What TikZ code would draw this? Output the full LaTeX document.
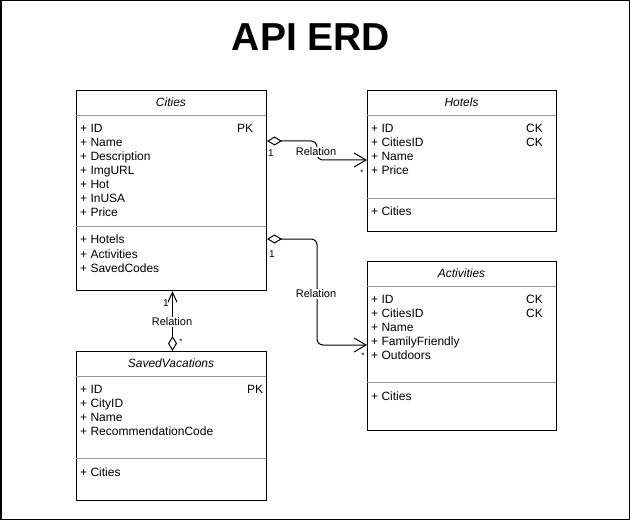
\documentclass[tikz,border=0pt]{standalone}
\usepackage{fontspec}
\setmainfont{Liberation Sans}
\usetikzlibrary{arrows.meta}

\begin{document}
\begin{tikzpicture}[x=1bp,y=-1bp,
    box/.style={draw,line width=1bp,anchor=north west,minimum width=190bp,inner sep=0pt},
    sep/.style={black!40,line width=.8bp},
    hd/.style={font=\fontsize{12bp}{14bp}\selectfont\itshape,inner sep=0pt},
    attr/.style={anchor=base west,font=\fontsize{12bp}{14bp}\selectfont,inner sep=0pt},
    lbl/.style={font=\fontsize{11bp}{13bp}\selectfont,fill=white,inner sep=1bp},
    mult/.style={font=\fontsize{10bp}{12bp}\selectfont,inner sep=0pt},
    many/.style={font=\fontsize{8bp}{10bp}\selectfont,inner sep=0pt},
    rel/.style={line width=1bp,rounded corners=6bp,
      {Diamond[open,length=15bp,width=9bp]}-{Straight Barb[length=12bp,width=14bp]}},
    relv/.style={line width=1bp,
      {Diamond[open,length=15bp,width=9bp]}-{Straight Barb[length=10bp,width=9bp]}}]
    \useasboundingbox (0,0) rectangle (631,521);
    \draw[line width=1.5bp] (.75,.75) rectangle (629.5,519.5);
    \node[font=\fontsize{39bp}{44bp}\selectfont\bfseries] (title) at (311,37) {API ERD};
    %%
    \begin{scope}[shift={(76,90)}]
      \node[box,minimum height=200bp] (cities) at (0,0) {};
      \node[hd] (citiesH) at (95,12.5) {Cities};
      \draw[sep] (0,25) -- (190,25);
      \draw[sep] (0,136) -- (190,136);
      \foreach \t [count=\i from 0] in {ID,Name,Description,ImgURL,Hot,InUSA,Price}
        \node[attr] (citiesA\i) at (4,43+14*\i) {+ \t};
      \node[attr] (citiesPK) at (161,43) {PK};
      \foreach \t [count=\i from 0] in {Hotels,Activities,SavedCodes}
        \node[attr] (citiesM\i) at (4,154+14*\i) {+ \t};
    \end{scope}
    %%
    \begin{scope}[shift={(367,90)}]
      \node[box,minimum width=189bp,minimum height=141bp] (hotels) at (0,0) {};
      \node[hd] (hotelsH) at (94.5,12.5) {Hotels};
      \draw[sep] (0,25) -- (189,25);
      \draw[sep] (0,108) -- (189,108);
      \foreach \t [count=\i from 0] in {ID,CitiesID,Name,Price}
        \node[attr] (hotelsA\i) at (4,43+14*\i) {+ \t};
      \node[attr] (hotelsCK0) at (159,43) {CK};
      \node[attr] (hotelsCK1) at (159,57) {CK};
      \node[attr] (hotelsM0) at (4,126) {+ Cities};
    \end{scope}
    %%
    \begin{scope}[shift={(367,261)}]
      \node[box,minimum width=189bp,minimum height=169bp] (activities) at (0,0) {};
      \node[hd] (activitiesH) at (94.5,12.5) {Activities};
      \draw[sep] (0,25) -- (189,25);
      \draw[sep] (0,121) -- (189,121);
      \foreach \t [count=\i from 0] in {ID,CitiesID,Name,FamilyFriendly,Outdoors}
        \node[attr] (activitiesA\i) at (4,42+14*\i) {+ \t};
      \node[attr] (activitiesCK0) at (159,42) {CK};
      \node[attr] (activitiesCK1) at (159,56) {CK};
      \node[attr] (activitiesM0) at (4,139) {+ Cities};
    \end{scope}
    %%
    \begin{scope}[shift={(76,351)}]
      \node[box,minimum height=149bp] (saved) at (0,0) {};
      \node[hd] (savedH) at (95,12.5) {SavedVacations};
      \draw[sep] (0,25) -- (190,25);
      \draw[sep] (0,107) -- (190,107);
      \foreach \t [count=\i from 0] in {ID,CityID,Name,RecommendationCode}
        \node[attr] (savedA\i) at (4,42+14*\i) {+ \t};
      \node[attr] (savedPK) at (171,42) {PK};
      \node[attr] (savedM0) at (4,125) {+ Cities};
    \end{scope}
    %%
    \draw[rel] ([yshift=-51bp]cities.north east)
      -| ([xshift=-50bp,yshift=-70bp]hotels.north west) -- ([yshift=-70bp]hotels.north west);
    \node[lbl] (relH) at (316,152) {Relation};
    \node[mult] (relH1) at (271,153) {1};
    \node[many] (relHn) at (362,173) {*};
    %%
    \draw[rel] ([yshift=-149bp]cities.north east)
      -| ([xshift=-50bp,yshift=-84bp]activities.north west) -- ([yshift=-84bp]activities.north west);
    \node[lbl] (relA) at (316,294) {Relation};
    \node[mult] (relA1) at (272,254) {1};
    \node[many] (relAn) at (363,356) {*};
    %%
    \draw[relv] ([xshift=1bp]saved.north) -- ([xshift=1bp]cities.south);
    \node[lbl] (relS) at (172,322) {Relation};
    \node[mult] (relS1) at (166,303) {1};
    \node[many] (relSn) at (181,342) {*};
  \end{tikzpicture}
\end{document}
